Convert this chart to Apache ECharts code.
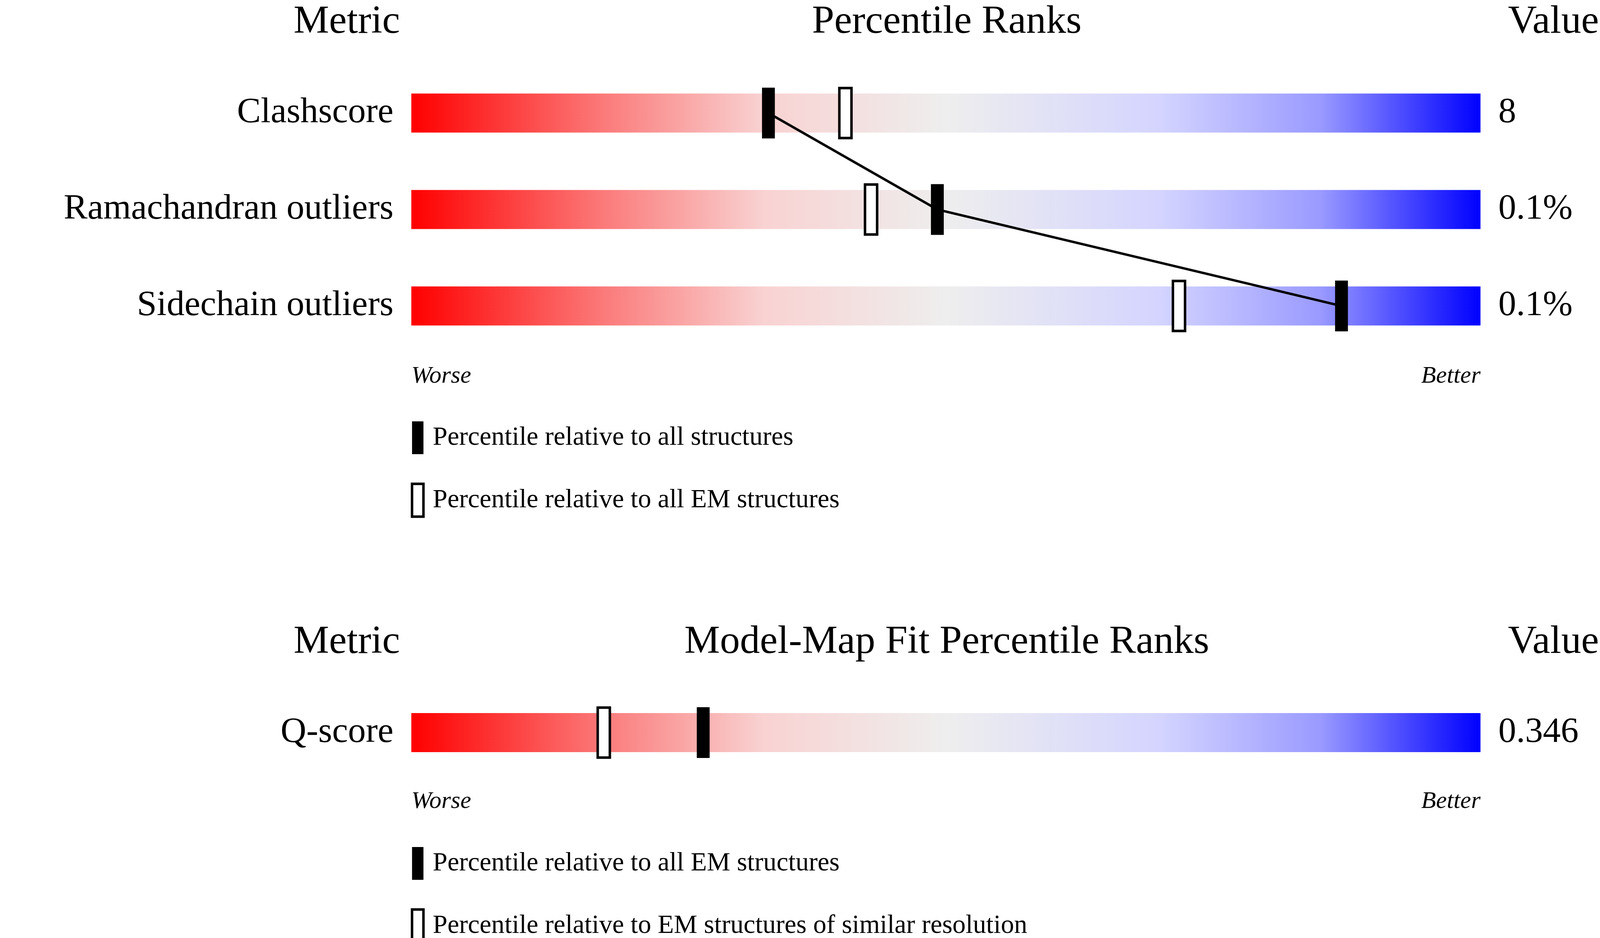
<!DOCTYPE html>
<html><head><meta charset="utf-8">
<script src="https://cdn.jsdelivr.net/npm/echarts@6/dist/echarts.min.js"></script>
<style>html,body{margin:0;padding:0;background:#fff;overflow:hidden}#c{width:100vw;height:100vh}</style>
</head><body><div id="c"></div>
<script>
const topMetrics = ['Clashscore', 'Ramachandran outliers', 'Sidechain outliers'];
const topValues = ['8', '0.1%', '0.1%'];
const topAll = [33.4, 49.2, 87.0];
const topEM = [40.6, 43.0, 71.8];
const botMetrics = ['Q-score'];
const botValues = ['0.346'];
const botAll = [27.3];
const botSimilar = [18.0];
const legendTop = ['Percentile relative to all structures', 'Percentile relative to all EM structures'];
const legendBot = ['Percentile relative to all EM structures', 'Percentile relative to EM structures of similar resolution'];

const F = 'Liberation Serif';
const el = document.getElementById('c');
const chart = echarts.init(el);
const W = chart.getWidth(), H = chart.getHeight();
const sx = W / 4485, sy = H / 2402, s = Math.min(sx, sy);
const X = v => v * sx, Y = v => v * sy;

const grad = {type:'linear',x:0,y:0,x2:1,y2:0,colorStops:[
  {offset:0,color:'#ff0000'},{offset:0.18,color:'#fb7a7a'},{offset:0.33,color:'#f9d2d2'},
  {offset:0.5,color:'#eeeeee'},{offset:0.7,color:'#d4d4ff'},{offset:0.85,color:'#9a9aff'},{offset:1,color:'#0000ff'}]};

function marker(filled){
  return function(params, api){
    const p = api.coord([api.value(0), api.value(1)]);
    const w = 34*sx, h = 128*sy;
    return {type:'rect', shape:{x:p[0]-w/2, y:p[1]-h/2, width:w, height:h},
      style: filled ? {fill:'#000', stroke:'#000', lineWidth:2*s} : {fill:'#fff', stroke:'#000', lineWidth:7*s}};
  };
}
const pts = arr => arr.map((v,i)=>[v,i]);

const grids = [
  {left:X(1153), width:X(2997), top:Y(166), height:Y(741)},
  {left:X(1153), width:X(2997), top:Y(1753), height:Y(246)}
];
const xAxes = grids.map((g,i)=>({gridIndex:i, type:'value', min:0, max:100, show:false}));
function yAx(i, cats, vals){
  return [
    {gridIndex:i, type:'category', data:cats, inverse:true, axisLine:{show:false}, axisTick:{show:false},
     axisLabel:{fontFamily:F, fontSize:100*s, color:'#000', margin:50*sx}},
    {gridIndex:i, type:'category', data:vals, inverse:true, position:'right', axisLine:{show:false}, axisTick:{show:false},
     axisLabel:{fontFamily:F, fontSize:100*s, color:'#000', margin:50*sx, align:'left'}}
  ];
}
const yAxes = [...yAx(0, topMetrics, topValues), ...yAx(1, botMetrics, botValues)];

const series = [
  {type:'bar', xAxisIndex:0, yAxisIndex:0, data:topMetrics.map(()=>100), barWidth:100*sy, itemStyle:{color:grad}, silent:true, z:1},
  {type:'bar', xAxisIndex:1, yAxisIndex:2, data:botMetrics.map(()=>100), barWidth:100*sy, itemStyle:{color:grad}, silent:true, z:1},
  {type:'line', xAxisIndex:0, yAxisIndex:0, data:pts(topAll), symbol:'none', lineStyle:{color:'#000', width:7*s}, z:2},
  {type:'custom', xAxisIndex:0, yAxisIndex:0, data:pts(topEM), renderItem:marker(false), z:3},
  {type:'custom', xAxisIndex:0, yAxisIndex:0, data:pts(topAll), renderItem:marker(true), z:4},
  {type:'custom', xAxisIndex:1, yAxisIndex:2, data:pts(botSimilar), renderItem:marker(false), z:3},
  {type:'custom', xAxisIndex:1, yAxisIndex:2, data:pts(botAll), renderItem:marker(true), z:4}
];

function txt(x,y,t,o){o=o||{};const fs=(o.fontSize||112)*s;return {type:'text',x:X(x),y:Y(y),style:Object.assign({text:t,fontFamily:F,fill:'#000',textVerticalAlign:'middle'},o,{fontSize:fs})};}
function hdr(y,mid){return [
  txt(972,y,'Metric',{textAlign:'center'}),
  txt(2654,y,mid,{textAlign:'center'}),
  txt(4482,y,'Value',{textAlign:'right'})];}
function wb(y){return [
  txt(1153,y,'Worse',{fontSize:68,fontStyle:'italic'}),
  txt(4150,y,'Better',{fontSize:68,fontStyle:'italic',textAlign:'right'})];}
function leg(y,t,filled){return [
  {type:'rect',shape:{x:X(1155),y:Y(y-42),width:X(32),height:Y(84)},style:filled?{fill:'#000'}:{fill:'#fff',stroke:'#000',lineWidth:7*s}},
  txt(1213,y,t,{fontSize:74})];}
const graphic = [
  ...hdr(57,'Percentile Ranks'), ...wb(964), ...leg(1121,legendTop[0],true), ...leg(1281,legendTop[1],false),
  ...hdr(1645,'Model-Map Fit Percentile Ranks'), ...wb(2053), ...leg(2211,legendBot[0],true), ...leg(2371,legendBot[1],false)
];

chart.setOption({animation:false, backgroundColor:'#fff', grid:grids, xAxis:xAxes, yAxis:yAxes, series:series, graphic:graphic});
</script></body></html>
